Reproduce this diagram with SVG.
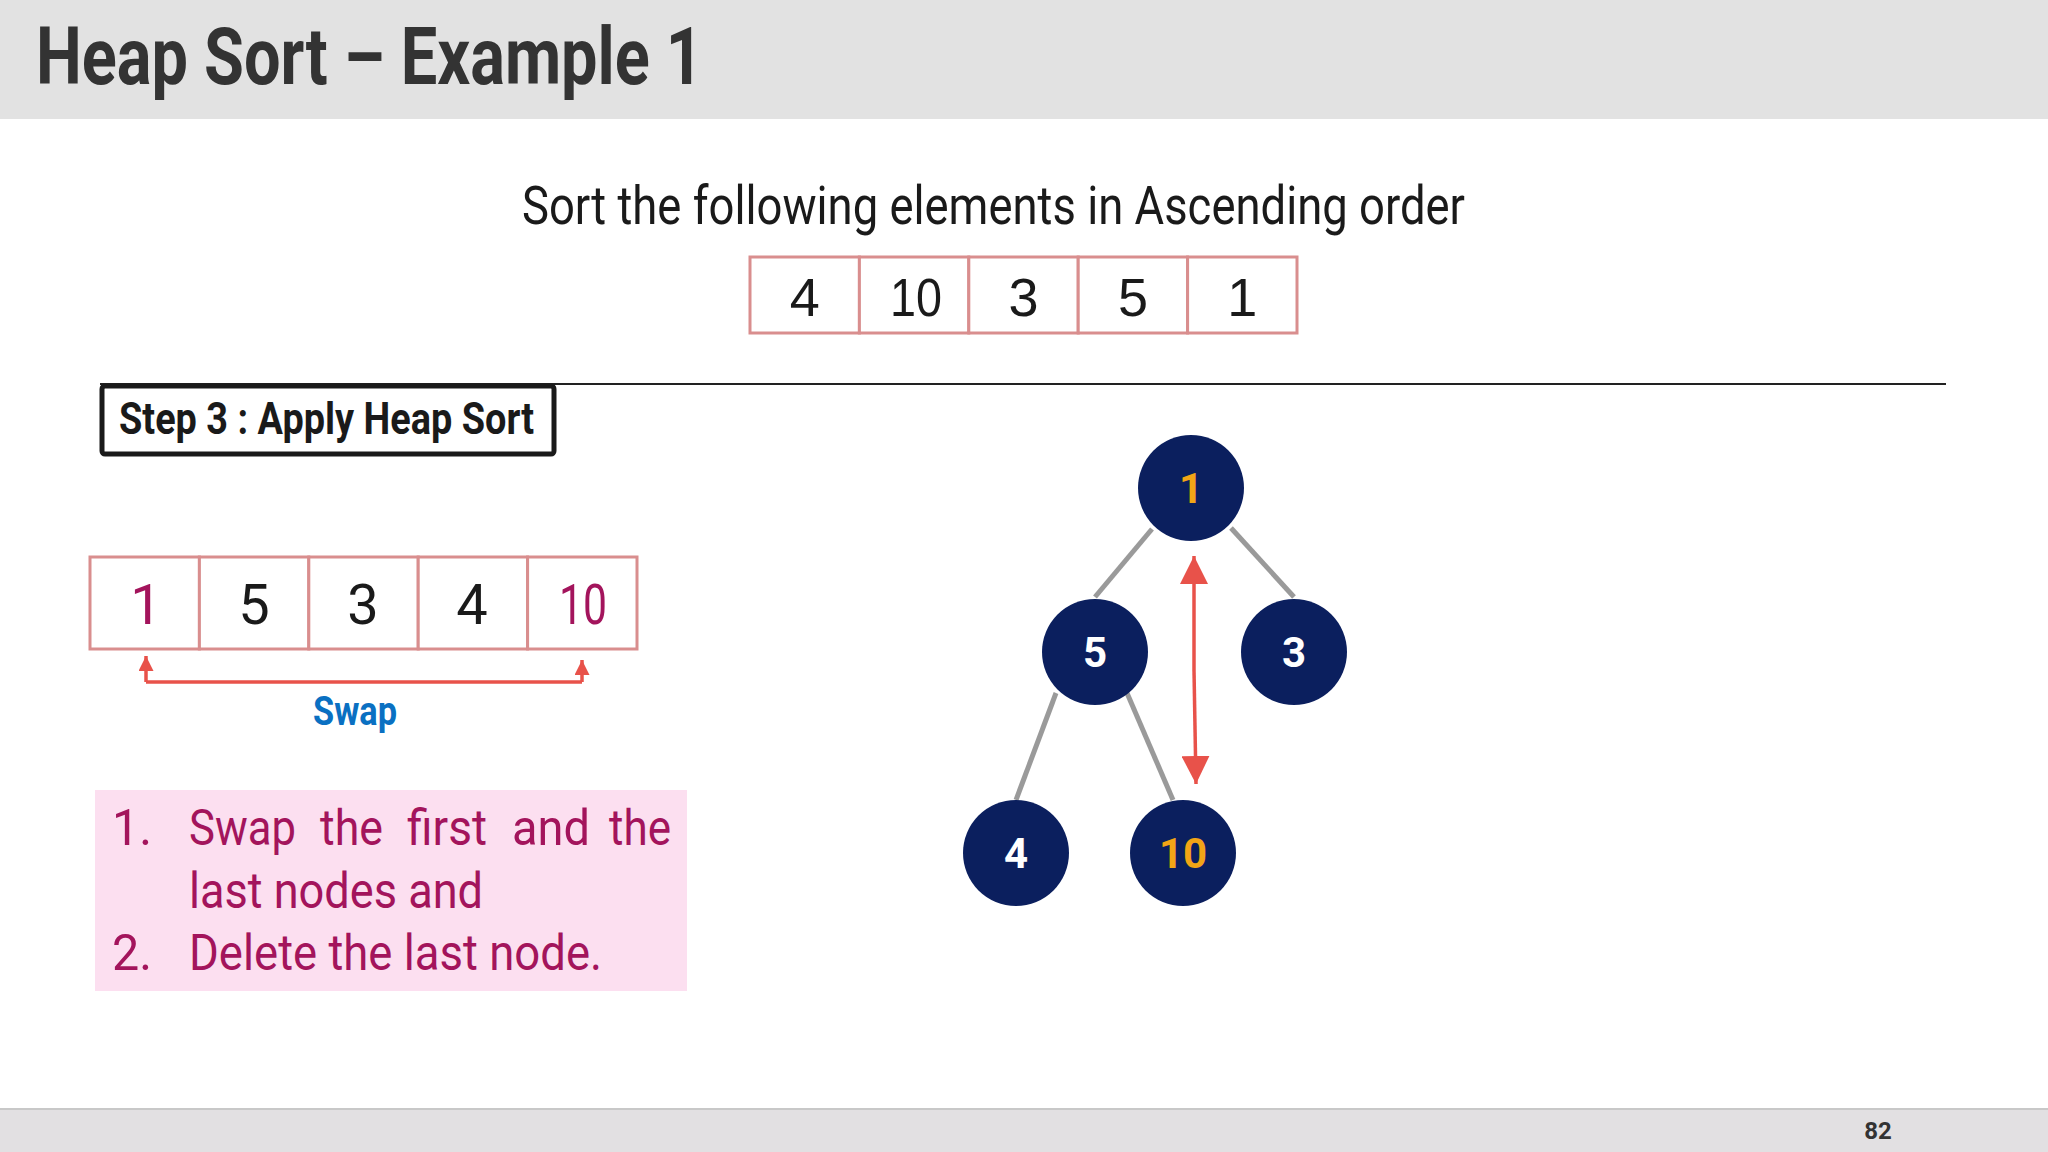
<svg xmlns="http://www.w3.org/2000/svg" width="2048" height="1152" viewBox="0 0 2048 1152">
<defs>
<style>
.cond{font-family:Roboto,"Noto Sans",sans-serif}
.cell{fill:#ffffff;stroke:#d98e8e;stroke-width:3}
.arr1{font-family:"Liberation Sans",Arial,sans-serif;font-size:54px;fill:#1a1a1a;text-anchor:middle}
.arr2{font-family:Roboto,sans-serif;font-size:56px;fill:#1a1a1a;text-anchor:middle}
.hl{fill:#a3145c}
.node circle{fill:#0b1f5e}
.node text{font-family:Roboto,sans-serif;font-weight:bold;font-size:42px;text-anchor:middle;fill:#ffffff}
.node text.or{fill:#f2a516}
.edge{stroke:#9a9a9a;stroke-width:5}
.red{stroke:#e8524a;stroke-width:3.5;fill:none}
.pinktxt{font-family:Roboto,sans-serif;font-size:50px;fill:#a3145c}
</style>
<marker id="ah" viewBox="0 0 10 10" refX="10" refY="5" markerWidth="15" markerHeight="15" markerUnits="userSpaceOnUse" orient="auto"><path d="M0,0 L10,5 L0,10 z" fill="#e8524a"/></marker>
<marker id="ahBig" viewBox="0 0 10 10" refX="10" refY="5" markerWidth="28" markerHeight="28" markerUnits="userSpaceOnUse" orient="auto"><path d="M0,0 L10,5 L0,10 z" fill="#e8524a"/></marker>
</defs>
<rect width="2048" height="1152" fill="#ffffff"/>
<g id="header">
<rect x="0" y="0" width="2048" height="119" fill="#e2e2e2"/>
<text class="cond" x="36" y="84" font-size="80" font-weight="bold" fill="#333333" textLength="667" lengthAdjust="spacingAndGlyphs">Heap Sort – Example 1</text>
</g>
<g id="subtitle">
<text class="cond" x="522" y="224" font-size="54" fill="#1a1a1a" textLength="943" lengthAdjust="spacingAndGlyphs">Sort the following elements in Ascending order</text>
</g>
<g id="input-array">
<rect class="cell" x="750" y="257" width="109.4" height="76"/>
<rect class="cell" x="859.4" y="257" width="109.4" height="76"/>
<rect class="cell" x="968.8" y="257" width="109.4" height="76"/>
<rect class="cell" x="1078.2" y="257" width="109.4" height="76"/>
<rect class="cell" x="1187.6" y="257" width="109.4" height="76"/>
<text class="arr1" x="804.7" y="316">4</text>
<text class="arr1" x="916" y="316" textLength="52" lengthAdjust="spacingAndGlyphs">10</text>
<text class="arr1" x="1023.5" y="316">3</text>
<text class="arr1" x="1132.9" y="316">5</text>
<text class="arr1" x="1242.3" y="316">1</text>
</g>
<g id="divider">
<line x1="100" y1="384" x2="1946" y2="384" stroke="#222222" stroke-width="2"/>
</g>
<g id="step-label">
<rect x="102" y="386" width="452" height="68" rx="3" fill="#ffffff" stroke="#1a1a1a" stroke-width="5"/>
<text class="cond" x="119" y="434" font-size="44" font-weight="bold" fill="#1a1a1a" textLength="415" lengthAdjust="spacingAndGlyphs">Step 3 : Apply Heap Sort</text>
</g>
<g id="heap-array">
<rect class="cell" x="90" y="557" width="109.4" height="92"/>
<rect class="cell" x="199.4" y="557" width="109.4" height="92"/>
<rect class="cell" x="308.8" y="557" width="109.4" height="92"/>
<rect class="cell" x="418.2" y="557" width="109.4" height="92"/>
<rect class="cell" x="527.6" y="557" width="109.4" height="92"/>
<text class="arr2 hl" x="146" y="624">1</text>
<text class="arr2" x="254" y="624">5</text>
<text class="arr2" x="363" y="624">3</text>
<text class="arr2" x="472" y="624">4</text>
<text class="arr2 hl" x="583" y="624" textLength="48" lengthAdjust="spacingAndGlyphs">10</text>
</g>
<g id="connectors">
<path class="red" d="M146,682 L582,682" />
<path class="red" d="M146,682 L146,656" marker-end="url(#ah)"/>
<path class="red" d="M582,682 L582,660" marker-end="url(#ah)"/>
<line class="edge" x1="1152" y1="529" x2="1095" y2="597"/>
<line class="edge" x1="1231" y1="528" x2="1294" y2="597"/>
<line class="edge" x1="1056" y1="693" x2="1016" y2="800"/>
<line class="edge" x1="1127" y1="693" x2="1173" y2="800"/>
<path class="red" d="M1194,670 L1194,556" marker-end="url(#ahBig)"/>
<path class="red" d="M1194,670 L1196,784" marker-end="url(#ahBig)"/>
</g>
<g id="swap-label">
<text class="cond" x="355" y="725" font-size="40" font-weight="bold" fill="#0a70c2" text-anchor="middle" textLength="84" lengthAdjust="spacingAndGlyphs">Swap</text>
</g>
<g id="instructions">
<rect x="95" y="790" width="592" height="201" fill="#fcdff0"/>
<text class="pinktxt" x="112" y="845" textLength="40" lengthAdjust="spacingAndGlyphs">1.</text>
<text class="pinktxt" x="189" y="845" textLength="107" lengthAdjust="spacingAndGlyphs">Swap</text>
<text class="pinktxt" x="320" y="845" textLength="63" lengthAdjust="spacingAndGlyphs">the</text>
<text class="pinktxt" x="407" y="845" textLength="80" lengthAdjust="spacingAndGlyphs">first</text>
<text class="pinktxt" x="512" y="845" textLength="78" lengthAdjust="spacingAndGlyphs">and</text>
<text class="pinktxt" x="609" y="845" textLength="62" lengthAdjust="spacingAndGlyphs">the</text>
<text class="pinktxt" x="189" y="908" textLength="294" lengthAdjust="spacingAndGlyphs">last nodes and</text>
<text class="pinktxt" x="112" y="970" textLength="40" lengthAdjust="spacingAndGlyphs">2.</text>
<text class="pinktxt" x="189" y="970" textLength="413" lengthAdjust="spacingAndGlyphs">Delete the last node.</text>
</g>
<g id="node-1" class="node"><circle cx="1191" cy="488" r="53"/><text class="or" x="1191" y="503">1</text></g>
<g id="node-5" class="node"><circle cx="1095" cy="652" r="53"/><text x="1095" y="667">5</text></g>
<g id="node-3" class="node"><circle cx="1294" cy="652" r="53"/><text x="1294" y="667">3</text></g>
<g id="node-4" class="node"><circle cx="1016" cy="853" r="53"/><text x="1016" y="868">4</text></g>
<g id="node-10" class="node"><circle cx="1183" cy="853" r="53"/><text class="or" x="1183" y="868">10</text></g>
<g id="footer">
<rect x="0" y="1109" width="2048" height="43" fill="#e2e0e2"/>
<line x1="0" y1="1109" x2="2048" y2="1109" stroke="#c8c8c8" stroke-width="2"/>
<text class="cond" x="1878" y="1139" font-size="24" font-weight="bold" fill="#333333" text-anchor="middle">82</text>
</g>
</svg>
